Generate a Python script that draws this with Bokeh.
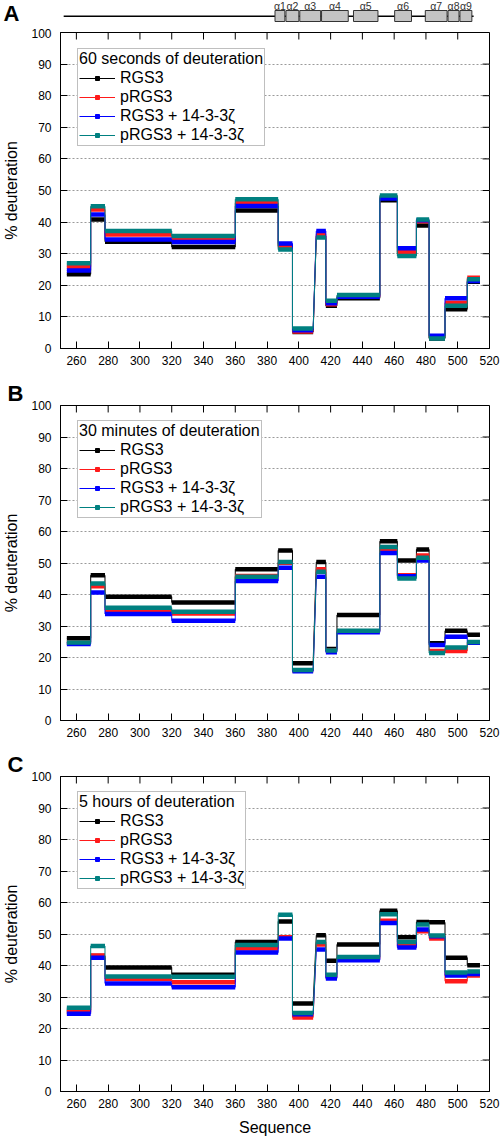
import numpy as np
from bokeh.plotting import figure
from bokeh.layouts import column
from bokeh.models import Range1d, FixedTicker, Legend, LegendItem
from bokeh.embed import file_html
from bokeh.resources import INLINE
from bokeh.core.properties import value

FONT = "Liberation Sans"

# ---------------- data ----------------
x_ticks = [260, 280, 300, 320, 340, 360, 380, 400, 420, 440, 460, 480, 500, 520]
y_ticks = [0, 10, 20, 30, 40, 50, 60, 70, 80, 90, 100]

seg_start = [254, 269, 278, 320, 360, 387, 396, 411, 417, 424, 451, 462, 474, 482, 492, 506]
seg_end = [269, 278, 320, 360, 387, 396, 409, 417, 424, 451, 462, 474, 482, 492, 506, 514]

series_names = ["RGS3", "pRGS3", "RGS3 + 14-3-3ζ", "pRGS3 + 14-3-3ζ"]
series_colors = ["#000000", "#ff1a1a", "#0000ff", "#008080"]

A_rgs3 = [23.5, 40.8, 33.8, 32.1, 43.7, 32.5, 5.2, 35.6, 13.5, 15.9, 46.9, 29.9, 38.9, 3.2, 12.4, 21.1]
A_prgs3 = [25.9, 44.0, 36.1, 34.7, 46.1, 32.0, 5.4, 36.1, 14.0, 16.4, 47.9, 30.5, 40.3, 3.5, 14.5, 22.4]
A_rgs3_1433 = [24.7, 42.4, 34.5, 33.7, 45.1, 33.2, 5.8, 37.2, 14.3, 16.4, 47.5, 31.7, 40.6, 4.0, 15.9, 21.4]
A_prgs3_1433 = [27.0, 45.0, 37.2, 35.6, 47.2, 31.3, 6.3, 35.1, 15.1, 16.9, 48.4, 29.3, 40.8, 3.2, 13.5, 21.9]

B_rgs3 = [26.1, 46.1, 39.3, 37.5, 48.0, 54.0, 18.2, 50.3, 22.7, 33.5, 56.9, 50.8, 54.3, 24.5, 28.5, 27.2]
B_prgs3 = [24.8, 42.6, 35.1, 34.0, 45.9, 50.1, 15.8, 48.0, 22.2, 28.3, 54.5, 46.1, 52.4, 22.1, 22.1, 24.7]
B_rgs3_1433 = [24.3, 40.6, 33.8, 31.7, 44.3, 48.5, 15.6, 45.6, 21.7, 28.0, 53.2, 45.8, 50.8, 24.0, 26.6, 24.7]
B_prgs3_1433 = [24.8, 43.5, 35.8, 34.5, 45.6, 50.3, 16.0, 47.2, 22.2, 28.5, 55.1, 45.1, 51.7, 21.4, 23.2, 24.9]

C_rgs3 = [25.8, 43.0, 39.4, 37.1, 47.5, 54.0, 27.9, 49.6, 41.5, 46.7, 57.4, 49.0, 53.8, 53.7, 42.5, 40.1]
C_prgs3 = [25.2, 43.2, 35.7, 34.7, 45.4, 49.0, 23.5, 46.7, 36.2, 42.2, 54.2, 46.2, 50.9, 48.6, 35.0, 36.8]
C_rgs3_1433 = [24.7, 42.5, 34.3, 33.1, 44.1, 48.6, 24.5, 45.1, 35.9, 41.7, 53.5, 45.7, 51.4, 49.3, 36.8, 37.3]
C_prgs3_1433 = [26.6, 46.2, 36.5, 36.4, 46.5, 56.1, 24.9, 47.5, 37.1, 42.7, 56.3, 47.5, 53.0, 49.5, 37.8, 38.1]

panel_titles = ["60 seconds of deuteration", "30 minutes of deuteration", "5 hours of deuteration"]
panel_letters = ["A", "B", "C"]

helix_names = ["α1", "α2", "α3", "α4", "α5", "α6", "α7", "α8", "α9"]
helix_start = [385.0, 391.9, 400.6, 414.3, 434.4, 460.3, 479.6, 493.9, 501.4]
helix_end = [391.2, 400.0, 413.7, 431.1, 449.8, 470.9, 493.3, 500.8, 508.9]
chain_start = [252]
chain_end = [510]

# ---------------- layout constants ----------------
FRAME_L, FRAME_R = 55, 11
FRAME_W = 500 - FRAME_L - FRAME_R
FRAME_H = 316
X_MIN, X_MAX = 250, x_ticks[-1]
Y_MIN, Y_MAX = y_ticks[0], y_ticks[-1]
KPX = FRAME_W / (X_MAX - X_MIN)
KPY = FRAME_H / (Y_MAX - Y_MIN)
TICK = 7


def style_axis(ax):
    ax.major_tick_in = TICK
    ax.major_tick_out = 0
    ax.minor_tick_in = 0
    ax.minor_tick_out = 0
    ax.axis_line_color = "black"
    ax.major_tick_line_color = "black"
    ax.major_label_text_font = FONT
    ax.major_label_text_color = "black"
    ax.major_label_text_font_size = "12px"
    ax.axis_label_text_font = FONT
    ax.axis_label_text_font_style = "normal"
    ax.axis_label_text_color = "black"
    ax.axis_label_text_font_size = "16px"


def make_panel(vals, title, height, top, bottom, letter, xlabel):
    p = figure(width=500, height=height, x_range=Range1d(X_MIN, X_MAX), y_range=Range1d(Y_MIN, Y_MAX),
               output_backend="svg", toolbar_location=None,
               min_border_left=FRAME_L, min_border_right=FRAME_R,
               min_border_top=top, min_border_bottom=bottom)
    p.outline_line_color = "black"
    p.outline_line_width = 1
    p.background_fill_color = "white"
    p.border_fill_color = "white"
    p.xgrid.visible = False
    p.ygrid.ticker = FixedTicker(ticks=y_ticks[1:-1])
    p.ygrid.grid_line_color = "#9a9a9a"
    p.ygrid.grid_line_dash = "2 2"
    p.ygrid.grid_line_width = 1

    if letter:
        p.title.text = letter
        p.title.align = "left"
        p.title.offset = 2 - FRAME_L
        p.title.text_font = FONT
        p.title.text_font_size = "22px"
        p.title.text_font_style = "bold"
        p.title.text_color = "black"
        try:
            p.title.standoff = 0
        except Exception:
            pass

    xa = p.xaxis[0]
    style_axis(xa)
    xa.ticker = FixedTicker(ticks=x_ticks)
    xa.major_label_standoff = 7
    if xlabel:
        xa.axis_label = xlabel
        xa.axis_label_standoff = 8

    ya = p.yaxis[0]
    style_axis(ya)
    ya.ticker = FixedTicker(ticks=y_ticks)
    ya.major_label_standoff = 9
    ya.axis_label = "% deuteration"
    ya.axis_label_standoff = 8

    # inward ticks on the top and right frame edges (mirror of the axis ticks)
    p.segment(x0=x_ticks, x1=x_ticks, y0=Y_MAX, y1=Y_MAX - TICK / KPY, line_color="black", line_width=1)
    p.segment(x0=X_MAX, x1=X_MAX - TICK / KPX, y0=y_ticks, y1=y_ticks, line_color="black", line_width=1)

    items = []
    for name, v, c in zip(series_names, vals, series_colors):
        xs = np.column_stack([seg_start, seg_end]).ravel()
        ys = np.column_stack([v, v]).ravel()
        ln = p.line(xs, ys, line_color=c, line_width=1)
        p.segment(x0=seg_start, x1=seg_end, y0=v, y1=v, line_color=c, line_width=4.5, line_cap="butt")
        mk = p.scatter([np.nan], [np.nan], marker="square", fill_color=c, line_color=c)
        items.append(LegendItem(label=name, renderers=[ln, mk]))

    leg = Legend(items=items, location=(17, 202), padding=1, spacing=0,
                 glyph_width=36, glyph_height=10, label_height=19, label_standoff=5,
                 title=title, title_text_font=FONT, title_text_font_size="16px",
                 title_text_font_style="normal", title_standoff=0, title_text_color="black",
                 label_text_font=FONT, label_text_font_size="16px", label_text_color="black",
                 border_line_color="#808080", border_line_width=1,
                 background_fill_color="white", background_fill_alpha=1)
    p.add_layout(leg)
    return p


# schematic of the helices (same x scale and frame as the panels)
S_H = 28
s = figure(width=500, height=S_H, output_backend="svg", toolbar_location=None,
           x_range=Range1d(X_MIN, X_MAX), y_range=Range1d(S_H, 0),
           x_axis_location=None, y_axis_location="left",
           min_border_left=FRAME_L, min_border_right=FRAME_R, min_border_top=0, min_border_bottom=0)
s.outline_line_color = None
s.xgrid.visible = False
s.ygrid.visible = False
s.background_fill_color = "white"
s.border_fill_color = "white"
# the panel letter "A" is the single label of the (otherwise invisible) left axis of the schematic
sa = s.yaxis[0]
sa.ticker = FixedTicker(ticks=[13])
sa.major_label_overrides = {13: panel_letters[0]}
sa.major_label_text_font = FONT
sa.major_label_text_font_size = "22px"
sa.major_label_text_font_style = "bold"
sa.major_label_text_color = "black"
sa.major_label_standoff = 35
sa.axis_line_color = None
sa.major_tick_line_color = None
sa.minor_tick_line_color = None

s.segment(x0=chain_start, x1=chain_end, y0=15.7, y1=15.7, line_color="black", line_width=1.5)
s.quad(left=helix_start, right=helix_end, top=10, bottom=21, fill_color="#c4c4c4", line_color="#333333", line_width=1)
hc = [(a + b) / 2 for a, b in zip(helix_start, helix_end)]
s.text(x=hc, y=5.5, text=helix_names, text_align="center", text_baseline="middle",
       text_font=value(FONT), text_font_size="10.5px", text_color="#333333")

pA = make_panel([A_rgs3, A_prgs3, A_rgs3_1433, A_prgs3_1433], panel_titles[0], 350, 4, 30, None, None)
pB = make_panel([B_rgs3, B_prgs3, B_rgs3_1433, B_prgs3_1433], panel_titles[1], 371, 26, 29, panel_letters[1], None)
pC = make_panel([C_rgs3, C_prgs3, C_rgs3_1433, C_prgs3_1433], panel_titles[2], 389, 26, 47, panel_letters[2], "Sequence")

layout = column(s, pA, pB, pC, spacing=0)

open("out.html", "w").write(file_html(layout, INLINE))
